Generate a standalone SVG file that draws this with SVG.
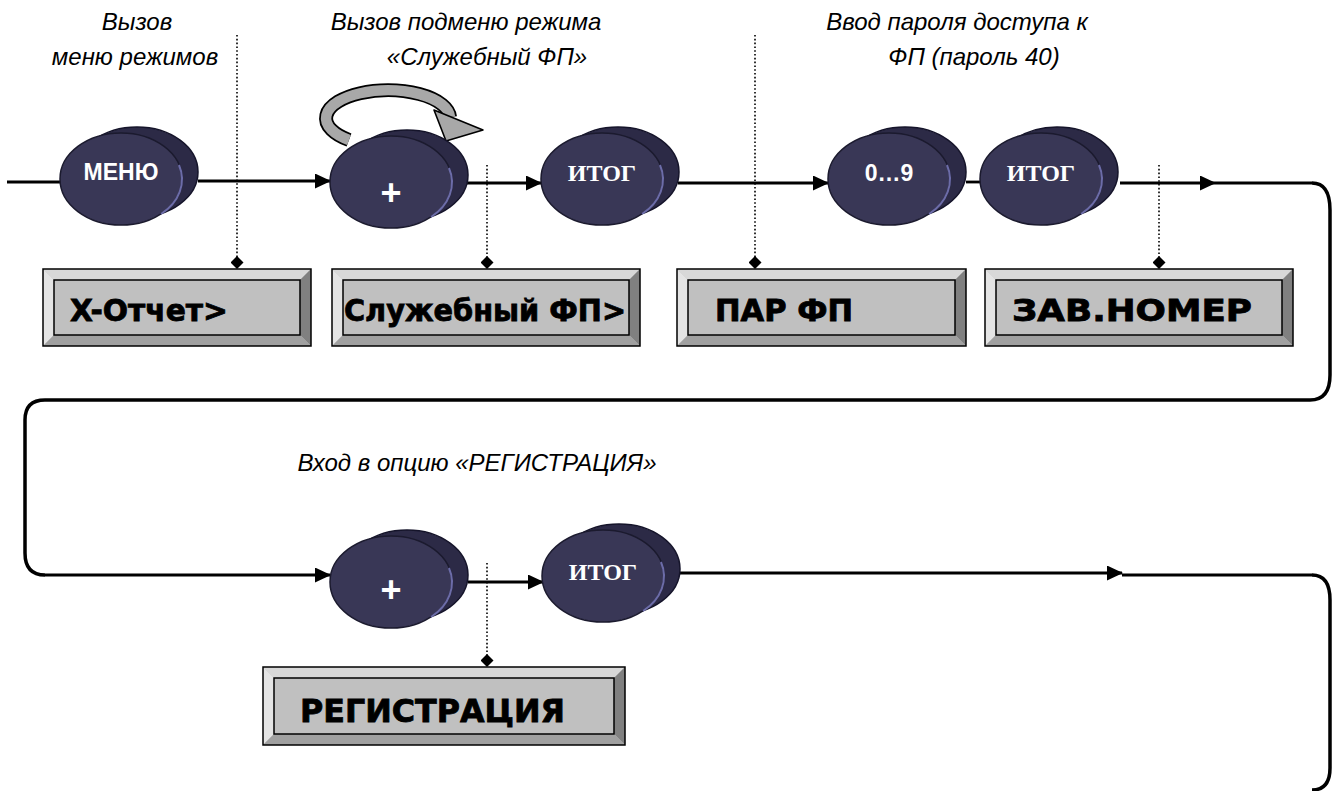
<svg xmlns="http://www.w3.org/2000/svg" width="1338" height="791" viewBox="0 0 1338 791">
<style>
.cap{font-family:"Liberation Sans",Arial,sans-serif;font-style:italic;font-size:24px;fill:#000;text-anchor:middle}
.btxt{font-family:"Liberation Sans",Arial,sans-serif;font-weight:bold;font-size:23px;fill:#fff;text-anchor:middle}
.stxt{font-family:"Liberation Serif","Times New Roman",serif;font-weight:bold;font-size:24px;fill:#fff;text-anchor:middle}
.boxt{font-family:"DejaVu Sans",sans-serif;font-weight:bold;font-size:30px;fill:#000;stroke:#000;stroke-width:0.8}
.back{fill:#2c2a46;stroke:#15142a;stroke-width:1.5}
.front{fill:#393756;stroke:#1b1a2e;stroke-width:1.5}
.hl{fill:none;stroke:#6c6ca8;stroke-width:2}
.line{fill:none;stroke:#000;stroke-width:2.8}
.brace{fill:none;stroke:#000;stroke-width:3.5}
.dot{fill:none;stroke:#000;stroke-width:1.6;stroke-dasharray:1.6 2.2}
.face{fill:#c0c0c0;stroke:#000;stroke-width:1.5}
</style>
<defs>
<marker id="arr" markerWidth="17" markerHeight="15" refX="15" refY="7.5" orient="auto" markerUnits="userSpaceOnUse">
<path d="M0,0 L16,7.5 L0,15 Z" fill="#000"/>
</marker>
<marker id="dia" markerWidth="13" markerHeight="13" refX="6.5" refY="1" orient="0" markerUnits="userSpaceOnUse">
<path d="M6.5,0 L13,6.5 L6.5,13 L0,6.5 Z" fill="#000"/>
</marker>
<g id="btn">
<ellipse class="back" cx="16" cy="-7" rx="61" ry="45"/>
<ellipse class="front" cx="0" cy="0" rx="61" ry="46"/>
<path class="hl" d="M58,-14 A61 46 0 0 1 40 35"/>
</g>
</defs>

<g id="captions">
<text class="cap" x="137" y="30">Вызов</text>
<text class="cap" x="135" y="65">меню режимов</text>
<text class="cap" x="466" y="30">Вызов подменю режима</text>
<text class="cap" x="487" y="65">«Служебный ФП»</text>
<text class="cap" x="957" y="30">Ввод пароля доступа к</text>
<text class="cap" x="974" y="65">ФП (пароль 40)</text>
<text class="cap" x="477" y="471">Вход в опцию «РЕГИСТРАЦИЯ»</text>
</g>

<g id="connectors">
<path class="line" d="M7,182 H62"/>
<path class="line" d="M198,181 H330" marker-end="url(#arr)"/>
<path class="line" d="M467,183 H541" marker-end="url(#arr)"/>
<path class="line" d="M678,183 H828" marker-end="url(#arr)"/>
<path class="line" d="M966,182 H982"/>
<path class="line" d="M1120,183 H1215" marker-end="url(#arr)"/>
<path class="line" d="M1215,183 H1312"/>
<path class="brace" d="M1312,183 Q1330,183 1330,210 V375 Q1330,400 1310,400 H45 Q25,400 25,420 V553 Q25,575 45,575"/>
<path class="line" d="M45,575 H330" marker-end="url(#arr)"/>
<path class="line" d="M468,582 H543" marker-end="url(#arr)"/>
<path class="line" d="M678,573 H1122" marker-end="url(#arr)"/>
<path class="line" d="M1122,575 H1312"/>
<path class="brace" d="M1312,575 Q1330,575 1330,600 V768 Q1330,790 1312,790"/>
<path class="dot" d="M237,35 V257" marker-end="url(#dia)"/>
<path class="dot" d="M487,165 V257" marker-end="url(#dia)"/>
<path class="dot" d="M755,35 V257" marker-end="url(#dia)"/>
<path class="dot" d="M1159,165 V257" marker-end="url(#dia)"/>
<path class="dot" d="M487,563 V655" marker-end="url(#dia)"/>
</g>

<g id="rotate-arrow">
<path d="M349,140 A62 28 0 1 1 450,117" fill="none" stroke="#000" stroke-width="14"/>
<path d="M349,140 A62 28 0 1 1 450,117" fill="none" stroke="#a8a8a8" stroke-width="10.5"/>
<path d="M434,110 L483,130 L446,141 Z" fill="#a8a8a8" stroke="#000" stroke-width="1.6" stroke-linejoin="round"/>
<path d="M346,140 L353,140" stroke="#000" stroke-width="0"/>
</g>

<g id="btn-menu"><use href="#btn" x="121" y="179"/><text class="btxt" x="121" y="180">МЕНЮ</text></g>
<g id="btn-plus1"><use href="#btn" x="391" y="182"/><text class="btxt" x="391" y="205" style="font-size:36px">+</text></g>
<g id="btn-itog1"><use href="#btn" x="602" y="179"/><text class="stxt" x="602" y="181">ИТОГ</text></g>
<g id="btn-09"><use href="#btn" x="889" y="179"/><text class="btxt" x="889" y="181">0…9</text></g>
<g id="btn-itog2"><use href="#btn" x="1041" y="179"/><text class="stxt" x="1041" y="181">ИТОГ</text></g>
<g id="btn-plus2"><use href="#btn" x="391" y="582"/><text class="btxt" x="391" y="602" style="font-size:36px">+</text></g>
<g id="btn-itog3"><use href="#btn" x="603" y="576"/><text class="stxt" x="603" y="580">ИТОГ</text></g>

<g id="box-x">
<rect x="43" y="269" width="268" height="77" fill="#c0c0c0"/>
<polygon points="43,269 311,269 300,280 54,280" fill="#d8d8d8"/>
<polygon points="43,269 54,280 54,335 43,346" fill="#e4e4e4"/>
<polygon points="311,269 311,346 300,335 300,280" fill="#808080"/>
<polygon points="43,346 311,346 300,335 54,335" fill="#a0a0a0"/>
<rect x="43" y="269" width="268" height="77" fill="none" stroke="#000" stroke-width="1.5"/>
<rect class="face" x="54" y="280" width="246" height="55"/>
<text class="boxt" x="70" y="321" textLength="158" lengthAdjust="spacingAndGlyphs">X-Отчет&gt;</text>
</g>
<g id="box-sl">
<rect x="332" y="269" width="308" height="77" fill="#c0c0c0"/>
<polygon points="332,269 640,269 629,280 343,280" fill="#d8d8d8"/>
<polygon points="332,269 343,280 343,335 332,346" fill="#e4e4e4"/>
<polygon points="640,269 640,346 629,335 629,280" fill="#808080"/>
<polygon points="332,346 640,346 629,335 343,335" fill="#a0a0a0"/>
<rect x="332" y="269" width="308" height="77" fill="none" stroke="#000" stroke-width="1.5"/>
<rect class="face" x="343" y="280" width="286" height="55"/>
<text class="boxt" x="344" y="321" textLength="282" lengthAdjust="spacingAndGlyphs">Служебный ФП&gt;</text>
</g>
<g id="box-par">
<rect x="677" y="269" width="289" height="77" fill="#c0c0c0"/>
<polygon points="677,269 966,269 955,280 688,280" fill="#d8d8d8"/>
<polygon points="677,269 688,280 688,335 677,346" fill="#e4e4e4"/>
<polygon points="966,269 966,346 955,335 955,280" fill="#808080"/>
<polygon points="677,346 966,346 955,335 688,335" fill="#a0a0a0"/>
<rect x="677" y="269" width="289" height="77" fill="none" stroke="#000" stroke-width="1.5"/>
<rect class="face" x="688" y="280" width="267" height="55"/>
<text class="boxt" x="715" y="321" textLength="138" lengthAdjust="spacingAndGlyphs">ПАР ФП</text>
</g>
<g id="box-zav">
<rect x="985" y="269" width="308" height="77" fill="#c0c0c0"/>
<polygon points="985,269 1293,269 1282,280 996,280" fill="#d8d8d8"/>
<polygon points="985,269 996,280 996,335 985,346" fill="#e4e4e4"/>
<polygon points="1293,269 1293,346 1282,335 1282,280" fill="#808080"/>
<polygon points="985,346 1293,346 1282,335 996,335" fill="#a0a0a0"/>
<rect x="985" y="269" width="308" height="77" fill="none" stroke="#000" stroke-width="1.5"/>
<rect class="face" x="996" y="280" width="286" height="55"/>
<text class="boxt" x="1012" y="321" textLength="240" lengthAdjust="spacingAndGlyphs">ЗАВ.НОМЕР</text>
</g>
<g id="box-reg">
<rect x="263" y="667" width="362" height="78" fill="#c0c0c0"/>
<polygon points="263,667 625,667 614,678 274,678" fill="#d8d8d8"/>
<polygon points="263,667 274,678 274,734 263,745" fill="#e4e4e4"/>
<polygon points="625,667 625,745 614,734 614,678" fill="#808080"/>
<polygon points="263,745 625,745 614,734 274,734" fill="#a0a0a0"/>
<rect x="263" y="667" width="362" height="78" fill="none" stroke="#000" stroke-width="1.5"/>
<rect class="face" x="274" y="678" width="340" height="56"/>
<text class="boxt" x="300" y="722" style="font-size:32px" textLength="265" lengthAdjust="spacingAndGlyphs">РЕГИСТРАЦИЯ</text>
</g>
</svg>
